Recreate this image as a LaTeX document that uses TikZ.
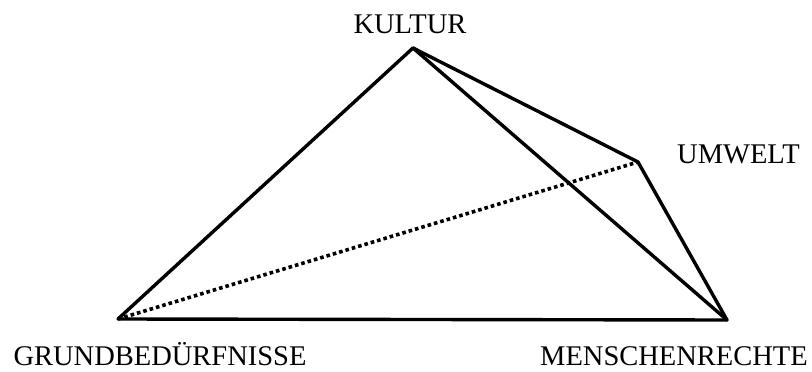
\documentclass[tikz,border=0pt]{standalone}
\usepackage{fontspec}
\setmainfont{Liberation Serif}
\begin{document}
\begin{tikzpicture}[
        x=1pt, y=-1pt,
        eckelbl/.style={font=\fontsize{28.5}{34}\selectfont, inner sep=0pt},
        kante/.style={draw=black, line width=3.4pt, line cap=round},
        hinten/.style={draw=black, line width=3.6pt, dash pattern=on 3.6pt off 3pt}
      ]
      \useasboundingbox (0,0) rectangle (812,372);
      % ecken des tetraeders
      \coordinate (kultur) at (413,48);
      \coordinate (umwelt) at (638,162);
      \coordinate (grund) at (118,319);
      \coordinate (rechte) at (727,320);
      % beschriftungen
      \node[eckelbl, anchor=base] (kulturlbl) at (410,33) {KULTUR};
      \node[eckelbl, anchor=base west] (umweltlbl) at (677,163) {UMWELT};
      \node[eckelbl, anchor=base] (grundlbl) at (160,365) {GRUNDBEDÜRFNISSE};
      \node[eckelbl, anchor=base east] (rechtelbl) at (808,365) {MENSCHENRECHTE};
      % sichtbare kanten
      \foreach \a/\b in {kultur/grund, grund/rechte, kultur/rechte,
                         kultur/umwelt, umwelt/rechte} {
        \draw[kante] (\a) -- (\b);
      }
      % verdeckte kante
      \draw[hinten] (grund) -- (umwelt);
    \end{tikzpicture}
\end{document}
